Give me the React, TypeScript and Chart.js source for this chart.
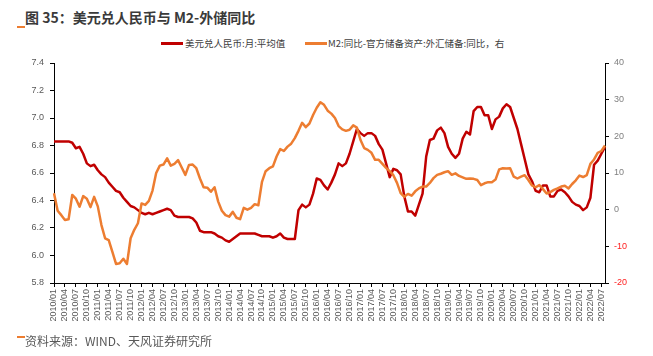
import React, { useEffect, useRef } from "react";
import { Chart, registerables } from "chart.js";

Chart.register(...registerables);

const TITLE = "图 35：美元兑人民币与 M2-外储同比";
const SOURCE = "资料来源：WIND、天风证券研究所";
const SERIES_NAMES = ["美元兑人民币:月:平均值", "M2:同比-官方储备资产:外汇储备:同比，右"];

// monthly categories 2010/01 .. 2022/08
const FIRST_YEAR = 2010;
const MONTHS = 152;
const categories: string[] = Array.from({ length: MONTHS }, (_, i) =>
  `${FIRST_YEAR + Math.floor(i / 12)}/${String((i % 12) + 1).padStart(2, "0")}`
);
const tickMonths = ["01", "04", "07", "10"];
const lastTickLabel = "2022/07";

// USD/CNY monthly average (left axis)
const usdCny: number[] = [
  // 2010
  6.83, 6.83, 6.83, 6.83, 6.83, 6.82, 6.78, 6.79, 6.74, 6.67, 6.65, 6.66,
  // 2011
  6.62, 6.59, 6.57, 6.53, 6.50, 6.47, 6.46, 6.42, 6.39, 6.36, 6.35, 6.33,
  // 2012
  6.31, 6.30, 6.31, 6.30, 6.31, 6.32, 6.33, 6.34, 6.33, 6.29, 6.28, 6.28,
  // 2013
  6.28, 6.28, 6.27, 6.24, 6.18, 6.17, 6.17, 6.17, 6.16, 6.14, 6.13, 6.11,
  // 2014
  6.10, 6.12, 6.14, 6.16, 6.16, 6.16, 6.16, 6.16, 6.15, 6.14, 6.14, 6.14,
  // 2015
  6.13, 6.14, 6.16, 6.13, 6.12, 6.12, 6.12, 6.33, 6.37, 6.35, 6.37, 6.45,
  // 2016
  6.56, 6.55, 6.51, 6.48, 6.53, 6.59, 6.67, 6.65, 6.67, 6.74, 6.83, 6.92,
  // 2017
  6.89, 6.87, 6.89, 6.89, 6.87, 6.81, 6.77, 6.67, 6.57, 6.63, 6.62, 6.59,
  // 2018
  6.43, 6.32, 6.32, 6.29, 6.37, 6.45, 6.72, 6.84, 6.85, 6.91, 6.93, 6.89,
  // 2019
  6.79, 6.74, 6.71, 6.74, 6.85, 6.90, 6.88, 7.05, 7.08, 7.08, 7.02, 7.02,
  // 2020
  6.92, 6.99, 7.01, 7.07, 7.10, 7.08, 7.00, 6.92, 6.81, 6.70, 6.59, 6.54,
  // 2021
  6.47, 6.46, 6.51, 6.51, 6.43, 6.43, 6.47, 6.48, 6.46, 6.43, 6.39, 6.37,
  // 2022
  6.36, 6.33, 6.35, 6.42, 6.66, 6.69, 6.74, 6.79,
];

// M2 yoy minus FX reserves yoy (right axis, %)
const m2MinusFx: number[] = [
  // 2010
  4.5, -0.3, -1.5, -2.8, -2.6, 4.0, 3.0, 0.8, 3.7, 3.0, 0.7, 3.5,
  // 2011
  0.9, -4.2, -7.8, -8.3, -11.5, -14.8, -14.6, -13.4, -14.8, -7.8, -5.5, -3.7,
  // 2012
  1.7, 1.3, 2.4, 5.2, 10.0, 12.0, 12.3, 14.0, 12.0, 12.5, 13.5, 11.5,
  // 2013
  9.5, 12.2, 12.3, 11.3, 8.5, 6.1, 6.0, 4.9, 6.1, 2.2, -0.3, -1.5,
  // 2014
  -1.9, -0.6, -2.2, -2.6, 0.5, 0.0, 0.5, 1.5, 1.2, 7.6, 10.5, 11.3,
  // 2015
  11.8, 14.5, 16.5, 16.0, 17.2, 18.0, 19.5, 21.5, 23.7, 22.5, 23.5, 25.8,
  // 2016
  27.8, 29.3, 28.6, 27.0, 26.2, 25.0, 22.8, 21.9, 21.5, 21.8, 23.0, 22.4,
  // 2017
  19.0, 16.8, 16.3, 15.5, 13.6, 13.6, 12.5, 11.4, 10.5, 9.4, 7.3, 4.5,
  // 2018
  3.5, 4.3, 3.8, 5.0, 5.8, 6.3, 6.3, 7.3, 8.6, 9.5, 9.8, 10.2,
  // 2019
  10.5, 9.5, 9.9, 9.2, 8.8, 8.4, 8.5, 8.4, 8.1, 6.7, 7.2, 7.5,
  // 2020
  7.5, 8.2, 11.0, 11.3, 11.2, 11.3, 9.0, 8.5, 9.0, 9.4, 8.1, 6.6,
  // 2021
  6.1, 6.7, 5.6, 4.4, 4.8, 5.4, 5.8, 6.3, 6.5, 5.8, 7.0, 8.0,
  // 2022
  9.3, 8.9, 9.4, 12.5, 13.7, 15.5, 16.0, 17.5,
];

const RED = "#C00000";
const ORANGE = "#ED7D31";
const AXIS_TEXT = "#595959";
const TICK_FONT = { family: "'Liberation Sans', Arial, sans-serif", size: 9 };

const isTickMonth = (i: number) => {
  const lab = categories[i];
  if (!lab) return false;
  return tickMonths.includes(lab.slice(5)) && lab <= lastTickLabel;
};

export default function App() {
  const ref = useRef<HTMLCanvasElement | null>(null);

  useEffect(() => {
    if (!ref.current) return;
    const chart = new Chart(ref.current, {
      type: "line",
      data: {
        labels: categories,
        datasets: [
          {
            label: SERIES_NAMES[0],
            data: usdCny,
            borderColor: RED,
            backgroundColor: RED,
            borderWidth: 2.5,
            pointRadius: 0,
            tension: 0,
            yAxisID: "y",
            order: 1,
            borderJoinStyle: "round",
          },
          {
            label: SERIES_NAMES[1],
            data: m2MinusFx,
            borderColor: ORANGE,
            backgroundColor: ORANGE,
            borderWidth: 2.5,
            pointRadius: 0,
            tension: 0,
            yAxisID: "y1",
            order: 0,
            borderJoinStyle: "round",
          },
        ],
      },
      options: {
        responsive: false,
        animation: false,
        layout: { padding: { top: 63, left: 0, right: 0, bottom: 0 } },
        plugins: {
          legend: { display: false },
          title: { display: false },
          tooltip: { enabled: false },
        },
        scales: {
          x: {
            type: "category",
            offset: false,
            afterFit: (s: any) => {
              s.height = 73;
            },
            grid: {
              drawOnChartArea: false,
              drawTicks: true,
              tickLength: 4,
              tickColor: (ctx: any) => (isTickMonth(ctx.index) ? "#000" : "rgba(0,0,0,0)"),
            },
            border: { display: true, color: "#000", width: 1 },
            ticks: {
              autoSkip: false,
              maxRotation: 90,
              minRotation: 90,
              padding: 2,
              color: AXIS_TEXT,
              font: TICK_FONT,
              callback: (_v: any, i: number) => (isTickMonth(i) ? categories[i] : ""),
            },
          },
          y: {
            position: "left",
            min: 5.8,
            max: 7.4,
            afterFit: (s: any) => {
              s.width = 54;
            },
            grid: { drawOnChartArea: false, tickLength: 4, tickColor: "#000" },
            border: { display: true, color: "#000", width: 1 },
            ticks: {
              stepSize: 0.2,
              padding: 6,
              color: AXIS_TEXT,
              font: TICK_FONT,
              callback: (v: any) => Number(v).toFixed(1),
            },
          },
          y1: {
            position: "right",
            min: -20,
            max: 40,
            afterFit: (s: any) => {
              s.width = 48;
            },
            grid: { drawOnChartArea: false, tickLength: 4, tickColor: "#000" },
            border: { display: true, color: "#000", width: 1 },
            ticks: {
              stepSize: 10,
              padding: 5,
              color: (ctx: any) => (ctx.tick && ctx.tick.value < 0 ? "#FF2020" : "#7F7F7F"),
              font: TICK_FONT,
              callback: (v: any) => String(v),
            },
          },
        },
      } as any,
    });
    return () => chart.destroy();
  }, []);

  const cjk = "'Noto Sans CJK SC', 'Noto Sans', sans-serif";

  return (
    <div
      style={{
        position: "absolute",
        left: 0,
        top: 0,
        width: 653,
        height: 356,
        background: "#fff",
        overflow: "hidden",
        fontFamily: cjk,
      }}
    >
      <div
        style={{
          position: "absolute",
          left: 25,
          top: 7,
          fontSize: 14,
          fontWeight: "bold",
          color: "#3a3a3a",
          whiteSpace: "nowrap",
          lineHeight: "20px",
        }}
      >
        {TITLE}
      </div>
      <div style={{ position: "absolute", left: 17, top: 26, width: 8, height: 1.5, background: ORANGE }} />

      <div style={{ position: "absolute", left: 161, top: 42, width: 22, height: 2.5, background: RED }} />
      <div
        style={{
          position: "absolute",
          left: 185,
          top: 35,
          fontSize: 9.5,
          lineHeight: "16px",
          color: "#404040",
          whiteSpace: "nowrap",
        }}
      >
        {SERIES_NAMES[0]}
      </div>
      <div style={{ position: "absolute", left: 305, top: 42, width: 22, height: 2.5, background: ORANGE }} />
      <div
        style={{
          position: "absolute",
          left: 328,
          top: 35,
          fontSize: 9.5,
          lineHeight: "16px",
          color: "#404040",
          whiteSpace: "nowrap",
        }}
      >
        {SERIES_NAMES[1]}
      </div>

      <canvas
        ref={ref}
        width={653}
        height={356}
        style={{ position: "absolute", left: 0, top: 0, width: 653, height: 356 }}
      />

      <div style={{ position: "absolute", left: 17, top: 336, width: 8, height: 1.5, background: ORANGE }} />
      <div
        style={{
          position: "absolute",
          left: 25,
          top: 332,
          fontSize: 12,
          lineHeight: "18px",
          color: "#595959",
          whiteSpace: "nowrap",
        }}
      >
        {SOURCE}
      </div>
    </div>
  );
}
